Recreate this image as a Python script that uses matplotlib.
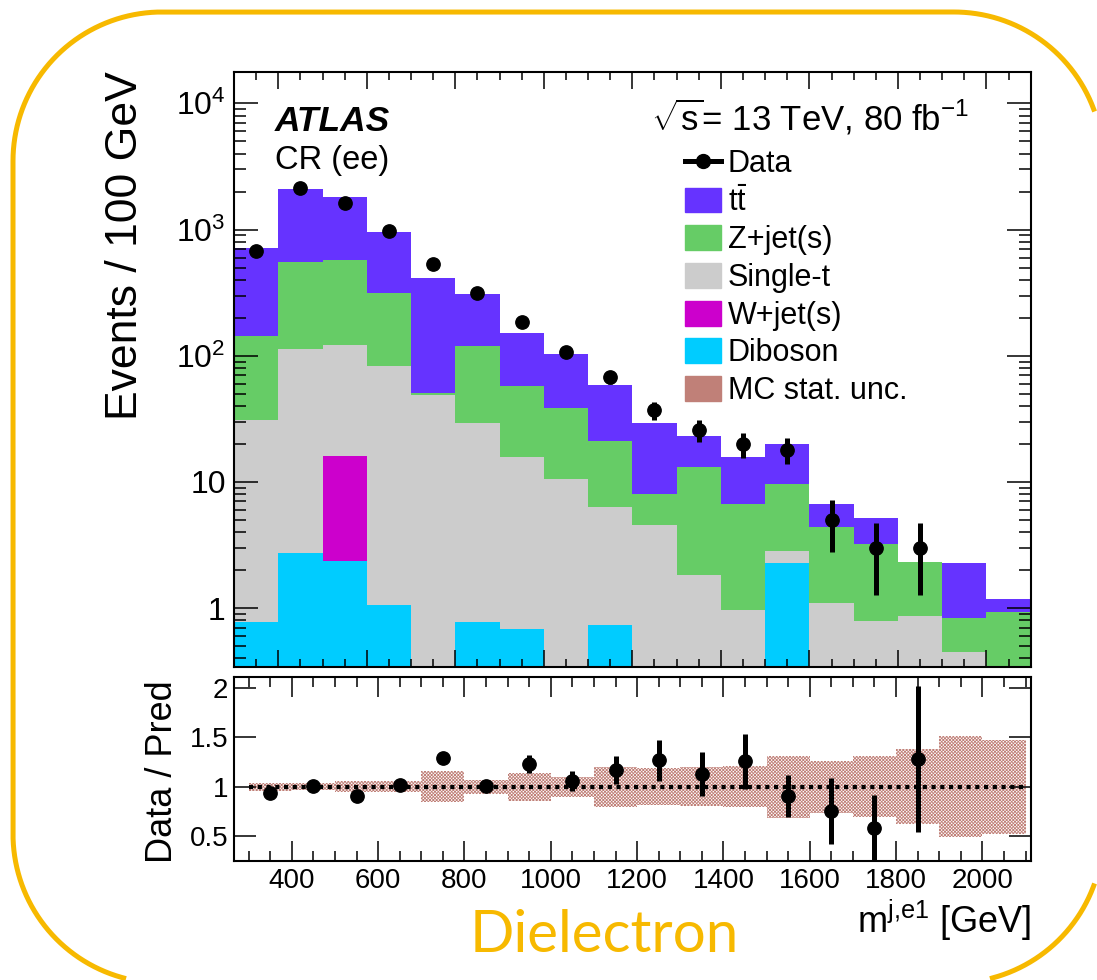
import numpy as np
import matplotlib
matplotlib.use('Agg')
import matplotlib.pyplot as plt
from matplotlib.patches import Patch
from matplotlib.lines import Line2D
from matplotlib.ticker import MultipleLocator, LogLocator, NullFormatter

plt.rcParams['font.family'] = ['Liberation Sans', 'DejaVu Sans']
plt.rcParams['mathtext.fontset'] = 'custom'
plt.rcParams['mathtext.rm'] = 'Liberation Sans'
plt.rcParams['mathtext.it'] = 'Liberation Sans:italic'
plt.rcParams['mathtext.bf'] = 'Liberation Sans:bold'
plt.rcParams['mathtext.default'] = 'regular'
plt.rcParams['hatch.linewidth'] = 0.6

# binning: 100 GeV bins from 300 to 2100 GeV
edges = np.arange(300, 2101, 100)
centers = 0.5 * (edges[:-1] + edges[1:])

# observed events per bin
data = np.array([671, 2128, 1618, 966, 536, 314, 185, 108, 68, 37, 26, 20, 18, 5, 3, 3, 0, 0])

# background predictions per bin
ttbar = np.array([575, 1553, 1226, 639, 364, 190, 93, 64, 37.3, 21.2, 9.8, 9.2, 10.3, 2.28, 1.95, 0, 1.45, 0.255])
zjets = np.array([112, 440, 448, 232, 1.5, 91, 41.5, 28, 14.7, 3.43, 11.4, 5.73, 6.81, 3.29, 2.42, 1.47, 0.38, 0.935])
singlet = np.array([30.0, 109.7, 104.9, 81.3, 49.2, 28.5, 15.1, 10.5, 5.61, 4.57, 1.84, 0.97, 0.56, 1.09, 0.79, 0.87, 0.45, 0])
wjets = np.array([0, 0, 13.6, 0, 0, 0, 0, 0, 0, 0, 0, 0, 0, 0, 0, 0, 0, 0])
diboson = np.array([0.77, 2.73, 2.36, 1.06, 0, 0.77, 0.68, 0, 0.73, 0, 0, 0, 2.27, 0, 0, 0, 0, 0])

# relative MC statistical uncertainty on the total prediction
mc_rel_unc = np.array([0.04, 0.035, 0.055, 0.055, 0.155, 0.07, 0.14, 0.10, 0.205, 0.19,
                       0.20, 0.21, 0.315, 0.265, 0.31, 0.38, 0.51, 0.475])

orange = '#f7b900'
c_tt, c_z, c_st, c_w, c_vv, c_unc = '#6633ff', '#66cc66', '#cccccc', '#cc00cc', '#00ccff', '#c08078'

W_PX, H_PX = 1097, 980


def rounded_rect(x0, y0, x1, y1, r, n=200):
    # outline of a rounded rectangle given in pixels, returned in figure fractions;
    # pieces past the right and bottom edges are dropped
    pts = []
    corners = [(x1 - r, y1 - r, 0), (x0 + r, y1 - r, 90), (x0 + r, y0 + r, 180), (x1 - r, y0 + r, 270)]
    for cx, cy, a0 in corners:
        t = np.radians(np.linspace(a0, a0 + 90, n))
        pts.append(np.column_stack([cx + r * np.cos(t), cy + r * np.sin(t)]))
    pts.append(pts[0][:1])
    pts = np.vstack(pts)
    off = (pts[:, 0] > W_PX - 3) | (pts[:, 1] < 2)
    pts[off] = np.nan
    return pts[:, 0] / W_PX, pts[:, 1] / H_PX


fig = plt.figure(figsize=(W_PX / 100, H_PX / 100), dpi=100)
ax = fig.add_axes([0.2133, 0.3191, 0.7263, 0.6077])
axr = fig.add_axes([0.2133, 0.1217, 0.7263, 0.1872])

# stacked backgrounds, bottom to top
stack = [(diboson, c_vv), (wjets, c_w), (singlet, c_st), (zjets, c_z), (ttbar, c_tt)]
below = np.zeros(len(centers))
for vals, col in stack:
    top = below + vals
    ax.stairs(np.maximum(top, 1e-3), edges, baseline=np.maximum(below, 1e-3),
              fill=True, color=col, lw=0)
    below = top
pred = below

has_data = data > 0
ax.errorbar(centers[has_data], data[has_data], yerr=np.sqrt(data[has_data]),
            fmt='o', color='k', ms=9.6, elinewidth=3.6, capsize=0, zorder=5)

ax.set_yscale('log')
ax.set_xlim(300, 2100)
ax.set_ylim(0.34, 1.78e4)
ax.xaxis.set_major_locator(MultipleLocator(200))
ax.xaxis.set_minor_locator(MultipleLocator(50))
ax.set_yticks([1, 10, 100, 1000, 10000], ['1', '10', '$10^{2}$', '$10^{3}$', '$10^{4}$'])
ax.yaxis.set_minor_locator(LogLocator(base=10, subs=np.arange(2, 10)))
ax.yaxis.set_minor_formatter(NullFormatter())
ax.tick_params(which='both', direction='in', top=True, right=True, labelbottom=False)
ax.tick_params(axis='x', which='major', length=12.5, width=1.1)
ax.tick_params(axis='x', which='minor', length=6, width=1.1)
ax.tick_params(axis='y', which='major', length=17, width=1.1, labelsize=23, pad=6)
ax.tick_params(axis='y', which='minor', length=8.6, width=1.1)
for sp in ax.spines.values():
    sp.set_linewidth(1.5)
ax.set_ylabel('Events / 100 GeV', fontsize=32, ha='right')
ax.yaxis.set_label_coords(-0.11, 1.0)

# labels
fig.text(275 / W_PX, 1 - 130.7 / H_PX, 'ATLAS', fontsize=25.5, weight='bold', style='italic', va='baseline')
fig.text(275 / W_PX, 1 - 169 / H_PX, 'CR (ee)', fontsize=23.5, va='baseline')
fig.text(651 / W_PX, 1 - 130.7 / H_PX, r'$\sqrt{s}$= 13 TeV, 80 fb$^{-1}$', fontsize=25, va='baseline')

handles = [Line2D([], [], color='k', marker='o', lw=3.6, ms=10),
           Patch(color=c_tt), Patch(color=c_z), Patch(color=c_st),
           Patch(color=c_w), Patch(color=c_vv), Patch(color=c_unc)]
labels = ['Data', r'$t\bar{t}$', 'Z+jet(s)', 'Single-t', 'W+jet(s)', 'Diboson', 'MC stat. unc.']
ax.legend(handles, labels, loc='upper left', bbox_to_anchor=(685 / W_PX, 1 - 149 / H_PX),
          bbox_transform=fig.transFigure, frameon=False, fontsize=22, numpoints=1,
          handlelength=1.18, handleheight=0.88, handletextpad=0.22, labelspacing=0.25,
          borderpad=0, borderaxespad=0)

# ratio panel
ratio = data[has_data] / pred[has_data]
ratio_err = np.sqrt(data[has_data]) / pred[has_data]
axr.stairs(1 + mc_rel_unc, edges, baseline=1 - mc_rel_unc, fill=True,
           facecolor='none', edgecolor=c_unc, hatch='xxxxxxxxxx', lw=0)
axr.plot([edges[0], edges[-1]], [1, 1], color='k', lw=3, dashes=(1, 1.1), dash_capstyle='butt')
axr.errorbar(centers[has_data], ratio, yerr=ratio_err, fmt='o', color='k',
             ms=9.6, elinewidth=3.6, capsize=0, zorder=5)

axr.set_xlim(266, 2112)
axr.set_ylim(0.25, 2.11)
axr.xaxis.set_major_locator(MultipleLocator(200))
axr.xaxis.set_minor_locator(MultipleLocator(50))
axr.set_yticks([0.5, 1, 1.5, 2], ['0.5', '1', '1.5', '2'])
axr.tick_params(which='both', direction='in', top=True, right=True)
axr.tick_params(axis='x', which='major', length=14.4, width=1.1, labelsize=20, pad=5)
axr.tick_params(axis='x', which='minor', length=7.2, width=1.1)
axr.tick_params(axis='y', which='major', length=15.6, width=1.1, labelsize=20, pad=4)
for sp in axr.spines.values():
    sp.set_linewidth(1.5)
axr.set_ylabel('Data / Pred', fontsize=26)
axr.yaxis.set_label_coords(-0.068, 0.484)
axr.set_xlabel('m$^{j{,}e1}$ [GeV]', fontsize=26, ha='right')
axr.xaxis.set_label_coords(1.0, -0.2)

# rounded frame and channel title
fx, fy = rounded_rect(13, -3, 1103, 968, 149)
fig.add_artist(Line2D(fx, fy, color=orange, lw=3.6, transform=fig.transFigure))
fig.text(604 / W_PX, 1 - 952 / H_PX, 'Dielectron', ha='center', va='baseline',
         fontsize=42, color=orange, family='Lato')

fig.savefig('out.png', dpi=100)
